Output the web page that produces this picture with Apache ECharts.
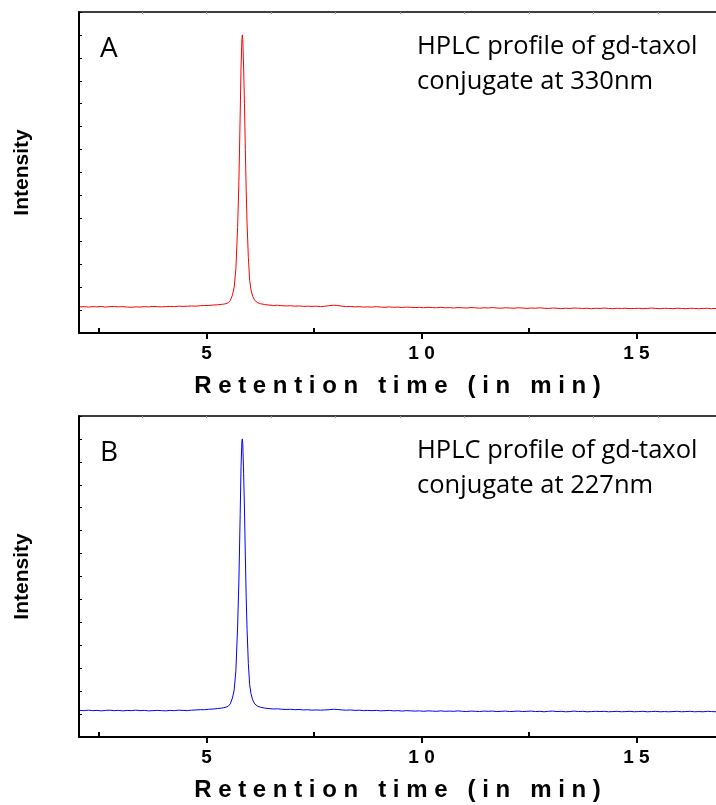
<!DOCTYPE html>
<html>
<head>
<meta charset="utf-8" />
<title>HPLC profile of gd-taxol conjugate</title>
<script src="https://cdn.jsdelivr.net/npm/echarts@6/dist/echarts.min.js"></script>
<style>
  html, body { margin: 0; padding: 0; background: #fff; }
  #chart { width: 716px; height: 805px; }
</style>
</head>
<body>
<div id="chart"></div>
<script>
// retention time (min), shared by both traces
var timeMin = [
  2.05,2.15,2.25,2.35,2.45,2.55,2.65,2.75,2.85,2.95,3.05,3.15,3.25,3.35,3.45,3.55,3.65,3.75,3.85,3.95,
  4.05,4.15,4.25,4.35,4.45,4.55,4.65,4.75,4.85,4.95,5.05,5.15,5.25,5.35,
  5.40,5.45,5.50,5.55,5.60,5.64,5.68,5.72,5.75,5.78,5.80,5.82,5.83,5.84,5.86,5.88,5.90,5.92,5.94,5.97,
  6.00,6.03,6.07,6.12,6.18,6.25,6.35,
  6.45,6.55,6.65,6.75,6.85,6.95,7.05,7.15,7.25,7.35,7.45,7.55,7.65,7.75,7.85,7.95,8.05,8.15,8.25,8.35,
  8.45,8.55,8.65,8.75,8.85,8.95,9.05,9.15,9.25,9.35,9.45,9.55,9.65,9.75,9.85,9.95,10.05,10.15,10.25,10.35,
  10.45,10.55,10.65,10.75,10.85,10.95,11.05,11.15,11.25,11.35,11.45,11.55,11.65,11.75,11.85,11.95,12.05,12.15,
  12.25,12.35,12.45,12.55,12.65,12.75,12.85,12.95,13.05,13.15,13.25,13.35,13.45,13.55,13.65,13.75,13.85,13.95,
  14.05,14.15,14.25,14.35,14.45,14.55,14.65,14.75,14.85,14.95,15.05,15.15,15.25,15.35,15.45,15.55,15.65,15.75,
  15.85,15.95,16.05,16.15,16.25,16.35,16.45,16.55,16.65,16.75,16.85
];

// panel A, 330 nm (arbitrary intensity units)
var intensity330 = [
  1.14,1.15,1.13,1.15,1.14,1.16,1.13,1.15,1.16,1.14,1.15,1.13,1.12,1.14,1.13,1.15,1.14,1.16,1.15,1.14,
  1.15,1.16,1.15,1.17,1.16,1.17,1.18,1.17,1.19,1.20,1.20,1.22,1.23,1.25,
  1.26,1.28,1.32,1.42,1.65,2.0,2.8,4.6,6.6,9.5,11.6,12.8,13.0,12.8,11.6,10.0,8.0,6.2,4.8,3.3,
  2.3,1.9,1.6,1.42,1.33,1.28,1.24,
  1.22,1.20,1.21,1.19,1.18,1.19,1.17,1.18,1.16,1.17,1.16,1.17,1.15,1.17,1.19,1.21,1.20,1.17,1.15,1.16,
  1.14,1.15,1.13,1.14,1.13,1.15,1.13,1.12,1.14,1.12,1.13,1.11,1.13,1.12,1.11,1.12,1.10,1.12,1.11,1.10,
  1.12,1.10,1.11,1.09,1.11,1.10,1.09,1.11,1.10,1.08,1.10,1.09,1.11,1.09,1.08,1.10,1.09,1.08,
  1.10,1.09,1.07,1.09,1.08,1.10,1.08,1.07,1.09,1.08,1.06,1.08,1.07,1.09,1.08,1.07,1.08,1.06,
  1.08,1.07,1.09,1.07,1.06,1.08,1.07,1.08,1.06,1.07,1.08,1.06,1.07,1.09,1.07,1.06,1.08,1.07,
  1.06,1.08,1.07,1.06,1.08,1.07,1.06,1.07,1.08,1.06,1.07
];

// panel B, 227 nm
var intensity227 = [
  1.16,1.15,1.17,1.15,1.16,1.14,1.16,1.17,1.15,1.16,1.14,1.16,1.15,1.17,1.15,1.16,1.14,1.15,1.16,1.15,
  1.14,1.16,1.15,1.17,1.16,1.15,1.17,1.18,1.19,1.19,1.21,1.22,1.24,1.26,
  1.28,1.30,1.34,1.45,1.70,2.05,2.9,4.8,6.8,9.7,11.8,12.9,13.0,12.8,11.5,9.9,7.9,6.1,4.7,3.2,
  2.3,1.9,1.62,1.44,1.35,1.30,1.26,
  1.24,1.22,1.23,1.21,1.20,1.21,1.19,1.20,1.18,1.19,1.17,1.18,1.17,1.18,1.19,1.21,1.20,1.18,1.17,1.18,
  1.16,1.17,1.15,1.16,1.15,1.16,1.14,1.15,1.16,1.14,1.15,1.13,1.15,1.14,1.13,1.14,1.12,1.14,1.13,1.12,
  1.14,1.12,1.13,1.12,1.14,1.12,1.11,1.13,1.12,1.11,1.13,1.12,1.13,1.11,1.12,1.13,1.11,1.12,
  1.13,1.11,1.12,1.13,1.11,1.12,1.10,1.12,1.13,1.11,1.12,1.10,1.11,1.13,1.11,1.12,1.10,1.11,
  1.12,1.11,1.12,1.10,1.11,1.12,1.10,1.11,1.12,1.10,1.11,1.12,1.10,1.11,1.12,1.10,1.11,1.10,
  1.11,1.12,1.10,1.11,1.12,1.10,1.11,1.10,1.12,1.11,1.10
];

var majorTicks = [5, 10, 15];
var minorTicks = [2.5, 7.5, 12.5];
var topTicks = [3.5, 5, 6.5, 8, 9.5, 11, 12.5, 14, 15.5];

var panels = [
  { letter: 'A', line1: 'HPLC profile of gd-taxol', line2: 'conjugate at 330nm', values: intensity330, color: '#ff0000', top: 12 },
  { letter: 'B', line1: 'HPLC profile of gd-taxol', line2: 'conjugate at 227nm', values: intensity227, color: '#0000ff', top: 416 }
];

var X_MIN = 2.03, X_MAX = 16.85;
var boldFont = '"Liberation Sans", Arial, sans-serif';
var grids = [], xAxes = [], yAxes = [], series = [], graphics = [];

panels.forEach(function (p, i) {
  grids.push({ left: 79, right: 0, top: p.top, height: 321 });

  // bottom axis with labels and outward major ticks
  xAxes.push({
    type: 'value', gridIndex: i, position: 'bottom', min: X_MIN, max: X_MAX,
    name: 'R e t e n t i o n   t i m e   ( i n   m i n )',
    nameLocation: 'middle', nameGap: 41,
    nameTextStyle: { fontFamily: boldFont, fontWeight: 'bold', fontSize: 24, color: '#000' },
    axisLine: { onZero: false, lineStyle: { color: '#000', width: 2 } },
    axisTick: { show: true, inside: false, length: 6, customValues: majorTicks, lineStyle: { color: '#000', width: 2 } },
    axisLabel: {
      customValues: majorTicks, margin: 11,
      fontFamily: boldFont, fontWeight: 'bold', fontSize: 19, color: '#000',
      formatter: function (v) { return String(v).split('').join(' '); }
    },
    splitLine: { show: false }
  });
  // inward minor ticks
  xAxes.push({
    type: 'value', gridIndex: i, position: 'bottom', min: X_MIN, max: X_MAX,
    axisLine: { show: false },
    axisTick: { show: true, inside: true, length: 5, customValues: minorTicks, lineStyle: { color: '#000', width: 2 } },
    axisLabel: { show: false },
    splitLine: { show: false }
  });
  // top frame line
  xAxes.push({
    type: 'value', gridIndex: i, position: 'top', min: X_MIN, max: X_MAX,
    axisLine: { onZero: false, lineStyle: { color: '#000', width: 1.5 } },
    axisTick: { show: true, inside: true, length: 2, customValues: topTicks, lineStyle: { color: '#999', width: 1 } },
    axisLabel: { show: false },
    splitLine: { show: false }
  });

  yAxes.push({
    type: 'value', gridIndex: i, min: 0, max: 14, interval: 1,
    name: 'Intensity', nameLocation: 'middle', nameRotate: 90, nameGap: 46,
    nameTextStyle: { fontFamily: boldFont, fontWeight: 'bold', fontSize: 21, color: '#000' },
    axisLine: { show: true, onZero: false, lineStyle: { color: '#000', width: 2 } },
    axisTick: { show: true, inside: true, length: 3, lineStyle: { color: '#000', width: 1 } },
    axisLabel: { show: false },
    splitLine: { show: false }
  });

  series.push({
    type: 'line', xAxisIndex: i * 3, yAxisIndex: i,
    data: timeMin.map(function (t, k) { return [t, p.values[k]]; }),
    showSymbol: false, smooth: false,
    lineStyle: { color: p.color, width: 1 },
    silent: true, animation: false
  });

  graphics.push({
    type: 'text', left: 100, top: p.top + 23,
    style: { text: p.letter, font: '28px "Open Sans"', fill: '#000' }
  });
  graphics.push({
    type: 'text', left: 417, top: p.top + 17,
    style: { text: p.line1 + '\n' + p.line2, font: '25.5px "Open Sans"', lineHeight: 35, fill: '#000' }
  });
});

var chart = echarts.init(document.getElementById('chart'), null, { renderer: 'canvas' });
chart.setOption({
  animation: false,
  backgroundColor: '#fff',
  grid: grids,
  xAxis: xAxes,
  yAxis: yAxes,
  series: series,
  graphic: graphics
});
</script>
</body>
</html>
